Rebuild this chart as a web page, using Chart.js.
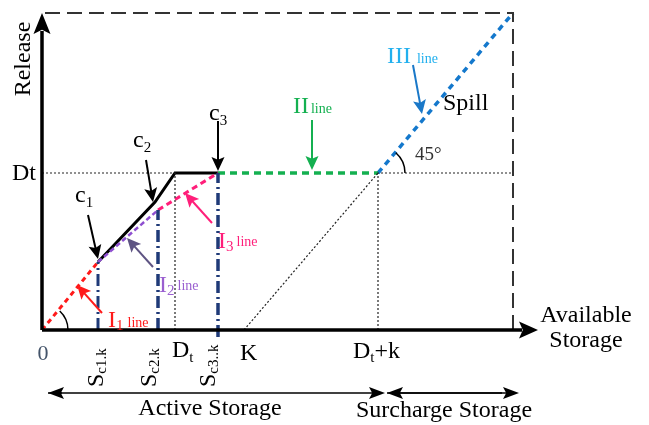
<!DOCTYPE html>
<html><head><meta charset="utf-8">
<script src="https://cdn.jsdelivr.net/npm/chart.js@4"></script>
<style>html,body{margin:0;padding:0;background:#fff;}</style>
</head><body>
<canvas id="c" width="649" height="425"></canvas>
<script>
// ---- data (storage on x, release on y, arbitrary units) ----
const storageTicks = ['0', 'Sc1.k', 'Sc2.k', 'Dt', 'Sc3..k', 'K', 'Dt+k'];
const storageValues = [0, 56, 116, 133, 176, 202, 336];
const storageMax = 471;          // right dashed bound
const releaseDt = 157;           // demand level Dt
const releaseMax = 317;          // top dashed bound
const ruleCurveX = [56, 113, 133, 176];   // c1 -> c2 -> Dt -> c3
const ruleCurveY = [68, 128, 157, 157];
const line1X = [0, 56],    line1Y = [0, 68];
const line2X = [56, 116],  line2Y = [68, 120];
const line3X = [116, 176], line3Y = [120, 157];
const lineIIX = [176, 336], lineIIY = [157, 157];
const lineIIIX = [336, 471], lineIIIY = [157, 317];
const axisEndX = 496, axisEndY = 317;

const FONT = '"Liberation Serif","Times New Roman",serif';
const pts = (xs, ys) => xs.map((v, i) => ({x: v, y: ys[i]}));
function ds(data, color, width, dash) {
  return {data, borderColor: color, borderWidth: width, borderDash: dash || [],
    showLine: true, pointRadius: 0, fill: false, clip: false, tension: 0};
}
const sv = n => storageValues[storageTicks.indexOf(n)];

const datasets = [
  ds([{x:0,y:0},{x:axisEndX-16,y:0}], '#000', 3.5),
  ds([{x:0,y:0},{x:0,y:axisEndY-18}], '#000', 3.5),
  ds([{x:3,y:releaseMax},{x:storageMax,y:releaseMax},{x:storageMax,y:0}], '#333', 2, [15,7]),
  ds([{x:0,y:releaseDt},{x:sv('Dt'),y:releaseDt},{x:sv('Dt'),y:0}], '#222', 1.2, [2,2]),
  ds([{x:sv('K'),y:0},{x:sv('Dt+k'),y:releaseDt}], '#222', 1.2, [2,2]),
  ds([{x:sv('Dt+k'),y:0},{x:sv('Dt+k'),y:releaseDt},{x:storageMax,y:releaseDt}], '#222', 1.2, [2,2]),
  ds([{x:sv('Sc1.k'),y:0},{x:sv('Sc1.k'),y:line1Y[1]}], '#1F3A78', 3, [12,4,2,4]),
  ds([{x:sv('Sc2.k'),y:0},{x:sv('Sc2.k'),y:line2Y[1]}], '#1F3A78', 3.5, [12,4,2,4]),
  ds([{x:sv('Sc3..k'),y:-7},{x:sv('Sc3..k'),y:releaseDt}], '#1F3A78', 3.5, [12,4,2,4]),
  ds(pts(line1X, line1Y), '#FF1A1A', 3, [5,4]),
  ds(pts(line2X, line2Y), '#8E4FD0', 2.5, [5,3]),
  ds(pts(line3X, line3Y), '#FF1F7A', 3, [6,4]),
  ds(pts(lineIIX, lineIIY), '#14B050', 3.5, [7,5]),
  ds(pts(lineIIIX, lineIIIY), '#1478CC', 3.5, [6,5]),
  ds(pts(ruleCurveX, ruleCurveY), '#000', 3),
];

// annotation arrows [tailX, tailY, tipX, tipY, color]
const arrows = [
  [46,115, 56,71, '#000'],
  [104,170, 111,128, '#000'],
  [176,209, 176,159, '#000'],
  [270,210, 270,160, '#14B050'],
  [371,265, 380,216, '#1A78C8'],
  [60,17, 35,45, '#FF1A1A'],
  [111,63, 85,92, '#5E5483'],
  [170,107, 143,137, '#FF1F7A'],
];
// text: [x, y, parts, align, color]; part = [text, size, dy, gapBefore]
const labels = [
  [-30,150, [['Dt',24,0]], 'left', '#000'],
  [33,128, [['c',24,0],['1',15,5]], 'left', '#000'],
  [91,183, [['c',24,0],['2',15,5]], 'left', '#000'],
  [167,210, [['c',24,0],['3',15,5]], 'left', '#000'],
  [251,217, [['II',24,0],['line',14,0,2]], 'left', '#14B050'],
  [345,267, [['III',24,0],['line',14,0,6]], 'left', '#22B0EE'],
  [401,220, [['Spill',24,0]], 'left', '#000'],
  [373,170, [['45°',19,0]], 'left', '#333'],
  [66,3, [['I',24,0],['1',15,3],['line',14,0,4]], 'left', '#FF1A1A'],
  [117,38, [['I',24,0],['2',15,3],['line',14,-2,3]], 'left', '#9A5FD0'],
  [176,82, [['I',24,0],['3',15,3],['line',14,-2,3]], 'left', '#FF1F7A'],
  [1,-30, [['0',22,0]], 'center', '#44546A'],
  [130,-27, [['D',24,0],['t',15,5]], 'left', '#000'],
  [198,-30, [['K',24,0]], 'left', '#000'],
  [311,-28, [['D',24,0],['t',15,4],['+k',24,0]], 'left', '#000'],
  [544,8, [['Available',24,0]], 'center', '#000'],
  [544,-17, [['Storage',24,0]], 'center', '#000'],
  [168,-85, [['Active Storage',24,0]], 'center', '#000'],
  [402,-87, [['Surcharge Storage',24,0]], 'center', '#000'],
];
const rotLabels = [
  [61,-57, [['S',24,0],['c1.k',15,3]]],
  [114,-57, [['S',24,0],['c2.k',15,3]]],
  [173,-57, [['S',24,0],['c3..k',15,3]]],
];

function rich(ctx, parts, x, y, align, color) {
  let w = 0;
  parts.forEach(p => { ctx.font = p[1] + 'px ' + FONT; w += (p[3]||0) + ctx.measureText(p[0]).width; });
  let cx = align === 'center' ? x - w/2 : x;
  ctx.fillStyle = color; ctx.textAlign = 'left'; ctx.textBaseline = 'alphabetic';
  parts.forEach(p => { ctx.font = p[1] + 'px ' + FONT; cx += (p[3]||0); ctx.fillText(p[0], cx, y + p[2]); cx += ctx.measureText(p[0]).width; });
}
function head(ctx, tx, ty, ang, len, hw, color) {
  ctx.save(); ctx.fillStyle = color; ctx.translate(tx, ty); ctx.rotate(ang);
  ctx.beginPath(); ctx.moveTo(0,0); ctx.lineTo(-len, -hw); ctx.lineTo(-len*0.8, 0); ctx.lineTo(-len, hw); ctx.closePath(); ctx.fill(); ctx.restore();
}
function arrow(ctx, x1, y1, x2, y2, color, lw, len, hw) {
  const a = Math.atan2(y2-y1, x2-x1);
  ctx.save(); ctx.strokeStyle = color; ctx.lineWidth = lw; ctx.setLineDash([]);
  ctx.beginPath(); ctx.moveTo(x1,y1); ctx.lineTo(x2 - Math.cos(a)*len*0.7, y2 - Math.sin(a)*len*0.7); ctx.stroke(); ctx.restore();
  head(ctx, x2, y2, a, len, hw, color);
}

const deco = {
  id: 'deco',
  afterDatasetsDraw(chart) {
    const {ctx, scales: {x, y}} = chart;
    const X = v => x.getPixelForValue(v), Y = v => y.getPixelForValue(v);
    ctx.save();
    // axis arrowheads
    head(ctx, X(axisEndX), Y(0), 0, 19, 8.5, '#000');
    head(ctx, X(0), Y(axisEndY), -Math.PI/2, 21, 8.5, '#000');
    // angle arcs
    ctx.strokeStyle = '#000'; ctx.lineWidth = 1.5; ctx.setLineDash([]);
    ctx.beginPath(); ctx.arc(X(0), Y(0), 26, -0.82, 0); ctx.stroke();
    ctx.beginPath(); ctx.arc(X(lineIIIX[0]), Y(lineIIIY[0]), 27, -0.85, 0); ctx.stroke();
    // annotation arrows
    arrows.forEach(a => arrow(ctx, X(a[0]), Y(a[1]), X(a[2]), Y(a[3]), a[4], 2, 14, 6.5));
    // storage zone arrows
    const yb = Y(-63);
    arrow(ctx, X(20), yb, X(6), yb, '#000', 1.5, 16, 6);
    arrow(ctx, X(6), yb, X(343), yb, '#000', 1.5, 16, 6);
    arrow(ctx, X(460), yb, X(345), yb, '#000', 1.5, 16, 6);
    arrow(ctx, X(345), yb, X(477), yb, '#000', 1.5, 16, 6);
    // labels
    labels.forEach(l => rich(ctx, l[2], X(l[0]), Y(l[1]), l[3], l[4]));
    rotLabels.forEach(l => {
      ctx.save(); ctx.translate(X(l[0]), Y(l[1])); ctx.rotate(-Math.PI/2);
      rich(ctx, l[2], 0, 0, 'left', '#000'); ctx.restore();
    });
    ctx.save(); ctx.translate(X(-18), Y(271)); ctx.rotate(-Math.PI/2);
    ctx.font = '24px ' + FONT; ctx.fillStyle = '#000'; ctx.textAlign = 'center'; ctx.textBaseline = 'middle';
    ctx.fillText('Release', 0, 0); ctx.restore();
    ctx.restore();
  }
};

new Chart(document.getElementById('c'), {
  type: 'scatter',
  data: { datasets },
  options: {
    responsive: false, animation: false, events: [],
    layout: { padding: { left: 42, right: 111, top: 13, bottom: 95 } },
    plugins: { legend: { display: false }, tooltip: { enabled: false } },
    scales: {
      x: { type: 'linear', min: 0, max: axisEndX, display: false },
      y: { type: 'linear', min: 0, max: axisEndY, display: false }
    }
  },
  plugins: [deco]
});
</script>
</body></html>
